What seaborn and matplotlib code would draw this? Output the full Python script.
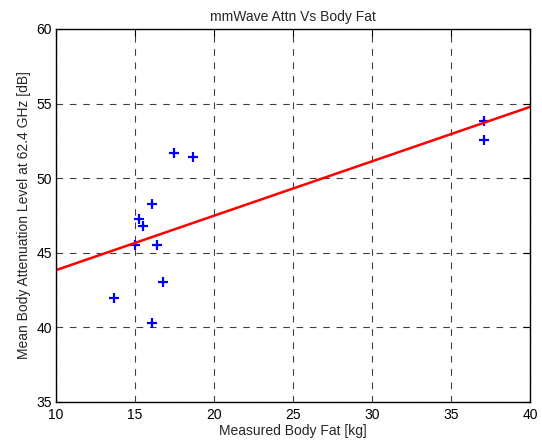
import matplotlib
matplotlib.use("Agg")
import matplotlib.pyplot as plt
import seaborn as sns
import pandas as pd

# Measured points
body_fat = [13.67, 15.0, 15.27, 15.53, 16.10, 16.10, 16.41, 16.79, 17.47, 18.69, 37.10, 37.09]
attenuation = [41.97, 45.52, 47.25, 46.82, 48.25, 40.27, 45.52, 43.02, 51.67, 51.40, 53.83, 52.56]

df = pd.DataFrame({"fat": body_fat, "attn": attenuation})

sns.set_theme(style="white")
plt.rcParams['font.family'] = ['Liberation Sans', 'DejaVu Sans']

fig = plt.figure(figsize=(5.42, 4.44), dpi=100)
ax = fig.add_axes([0.1033, 0.0946, 0.8747, 0.8401])
ax.set_xlim(10, 40)
ax.set_ylim(35, 60)

# regression line spans the full x range like the original
sns.regplot(data=df, x="fat", y="attn", ci=None, truncate=False, marker="+",
            scatter_kws={"color": "blue", "s": 55, "linewidths": 1.6, "alpha": 1},
            line_kws={"color": "red", "lw": 1.8}, ax=ax)
ax.set_xlim(10, 40)
ax.set_ylim(35, 60)

ax.set_xticks(range(10, 41, 5))
ax.set_yticks(range(35, 61, 5))
ax.grid(True, color="black", linestyle=(0, (6, 6)), linewidth=0.8, alpha=0.75)
ax.tick_params(direction="in", top=True, right=True, length=5, width=0.8,
               labelsize=10, colors="black")
ax.tick_params(axis="y", pad=3)
ax.tick_params(axis="x", pad=4)
for s in ax.spines.values():
    s.set_color("black")
    s.set_linewidth(1.0)

ax.set_title("mmWave Attn Vs Body Fat", fontsize=10, pad=6)
ax.set_xlabel("Measured Body Fat [kg]", fontsize=10, labelpad=2)
ax.set_ylabel("Mean Body Attenuation Level at 62.4 GHz [dB]", fontsize=10, labelpad=4)

fig.savefig("out.png", dpi=100)
